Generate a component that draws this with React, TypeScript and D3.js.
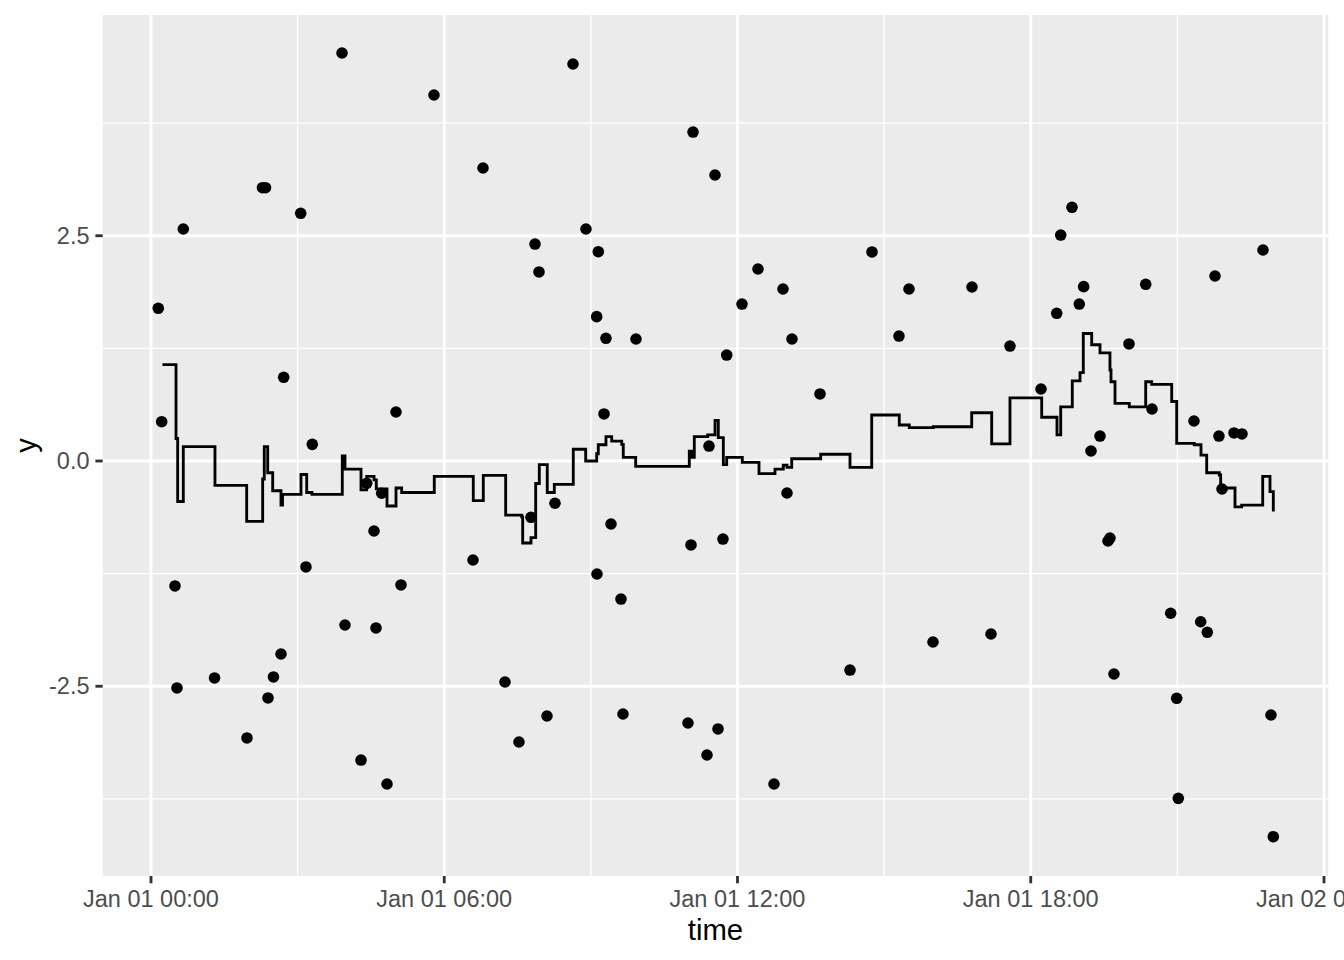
import React from "react";
import * as d3 from "d3";

// ---- data (hours after Jan 01 00:00, values) ----
const pointHours = [
  0.149, 0.219, 0.491, 0.532, 0.661, 1.3, 1.964, 2.281, 2.343, 2.394, 2.506, 2.66, 2.715, 3.063, 3.171, 3.3,
  3.908, 3.969, 4.297, 4.413, 4.563, 4.604, 4.72, 4.829, 5.013, 5.115, 5.79, 6.588, 6.793, 7.243, 7.529, 7.775,
  7.857, 7.939, 8.102, 8.266, 8.634, 8.9, 9.152, 9.119, 9.125, 9.269, 9.309, 9.412, 9.616, 9.657, 9.923, 10.987,
  11.049, 11.09, 11.376, 11.417, 11.54, 11.601, 11.703, 11.779, 12.092, 12.419, 12.747, 12.931, 13.013, 13.115,
  13.688, 14.302, 14.752, 15.304, 15.509, 16.0, 16.798, 17.187, 17.575, 18.21, 18.531, 18.613, 18.844, 18.993,
  19.083, 19.233, 19.417, 19.581, 19.621, 19.703, 20.01, 20.352, 20.481, 20.863, 20.986, 21.019, 21.34, 21.477,
  21.612, 21.77, 21.851, 21.913, 22.159, 22.322, 22.752, 22.915, 22.963,
];
const pointValues = [
  1.695, 0.436, -1.387, -2.519, 2.575, -2.408, -3.074, 3.033, 3.033, -2.63, -2.397, -2.142, 0.929, 2.749, -1.176,
  0.185, 4.528, -1.82, -3.319, -0.248, -0.777, -1.853, -0.358, -3.585, 0.544, -1.376, 4.062, -1.099, 3.252, -2.453,
  -3.119, -0.625, 2.408, 2.098, -2.83, -0.469, 4.406, 2.575, 2.323, 1.602, -1.254, 0.522, 1.362, -0.699, -1.532,
  -2.808, 1.354, -2.908, -0.932, 3.651, -3.263, 0.166, 3.174, -2.974, -0.866, 1.176, 1.742, 2.131, -3.585, 1.909,
  -0.355, 1.354, 0.744, -2.32, 2.32, 1.387, 1.909, -2.009, 1.931, -1.92, 1.276, 0.799, 1.639, 2.508, 2.816, 1.742,
  1.935, 0.111, 0.277, -0.888, -0.855, -2.364, 1.299, 1.961, 0.577, -1.69, -2.634, -3.744, 0.444, -1.784, -1.901,
  2.053, 0.277, -0.311, 0.311, 0.3, 2.342, -2.819, -4.17,
];

const stepHours = [
  0.235, 0.512, 0.546, 0.661, 1.309, 1.958, 2.285, 2.318, 2.388, 2.49, 2.66, 2.691, 3.069, 3.186, 3.294, 3.914,
  3.969, 4.297, 4.413, 4.563, 4.61, 4.829, 5.013, 5.129, 5.796, 6.594, 6.799, 7.257, 7.585, 7.605, 7.775, 7.871,
  7.945, 8.108, 8.252, 8.64, 8.894, 9.119, 9.152, 9.309, 9.426, 9.631, 9.663, 9.917, 11.014, 11.063, 11.116,
  11.39, 11.54, 11.607, 11.71, 11.779, 12.098, 12.44, 12.767, 12.937, 13.013, 13.109, 13.702, 14.302, 14.746,
  15.31, 15.515, 16.006, 16.792, 17.201, 17.575, 18.224, 18.537, 18.613, 18.85, 19.008, 19.075, 19.247, 19.417,
  19.621, 19.642, 19.724, 20.016, 20.352, 20.475, 20.884, 20.986, 21.346, 21.483, 21.6, 21.858, 21.886, 22.179,
  22.316, 22.746, 22.895, 22.963,
];
const stepValues = [
  1.07, 0.25, -0.45, 0.16, -0.27, -0.67, -0.2, 0.16, -0.13, -0.33, -0.49, -0.37, -0.15, -0.35, -0.37, 0.055,
  -0.09, -0.32, -0.17, -0.21, -0.31, -0.5, -0.3, -0.35, -0.17, -0.44, -0.16, -0.6, -0.62, -0.91, -0.85, -0.25,
  -0.04, -0.35, -0.26, 0.13, 0.0, 0.08, 0.18, 0.27, 0.22, 0.185, 0.04, -0.06, 0.11, 0.04, 0.27, 0.29, 0.45,
  0.26, -0.04, 0.04, -0.015, -0.14, -0.09, -0.045, -0.07, 0.025, 0.075, -0.07, 0.51, 0.4, 0.37, 0.38, 0.535,
  0.19, 0.7, 0.485, 0.29, 0.6, 0.89, 0.98, 1.415, 1.29, 1.2, 1.01, 0.88, 0.64, 0.6, 0.88, 0.85, 0.66, 0.195,
  0.18, 0.066, -0.13, -0.155, -0.3, -0.51, -0.49, -0.17, -0.34, -0.56,
];

const xMajorHours = [0, 6, 12, 18, 24];
const xMinorHours = [3, 9, 15, 21];
const yMajor = [-2.5, 0, 2.5];
const yMinor = [-3.75, -1.25, 1.25, 3.75];

const BASE = Date.UTC(2024, 0, 1);
const toDate = (h: number) => new Date(BASE + h * 3600000);

const W = 1344;
const H = 960;
const PL = 102.7;
const PR = 1328.3;
const PT = 15;
const PB = 876;

export default function App() {
  const x = d3.scaleUtc().domain([toDate(-0.988), toDate(24.088)]).range([PL, PR]);
  const y = d3.scaleLinear().domain([-4.606, 4.95]).range([PB, PT]);
  const fmt = d3.utcFormat("%b %d %H:%M");

  const stepData = stepHours.map((h, i) => ({ t: toDate(h), v: stepValues[i] }));
  const line = d3
    .line<{ t: Date; v: number }>()
    .x((d) => x(d.t))
    .y((d) => y(d.v))
    .curve(d3.curveStepAfter);

  const font = "'Liberation Sans', Arial, Helvetica, sans-serif";
  const major = 2.85;
  const minor = 1.42;

  return (
    <svg width={W} height={H} style={{ position: "absolute", left: 0, top: 0, background: "#fff" }} fontFamily={font}>
      <rect x={0} y={0} width={W} height={H} fill="#fff" />
      <rect x={PL} y={PT} width={PR - PL} height={PB - PT} fill="#EBEBEB" />
      {yMinor.map((v) => (
        <line key={"ym" + v} x1={PL} x2={PR} y1={y(v)} y2={y(v)} stroke="#fff" strokeWidth={minor} />
      ))}
      {xMinorHours.map((h) => (
        <line key={"xm" + h} x1={x(toDate(h))} x2={x(toDate(h))} y1={PT} y2={PB} stroke="#fff" strokeWidth={minor} />
      ))}
      {yMajor.map((v) => (
        <line key={"yM" + v} x1={PL} x2={PR} y1={y(v)} y2={y(v)} stroke="#fff" strokeWidth={major} />
      ))}
      {xMajorHours.map((h) => (
        <line key={"xM" + h} x1={x(toDate(h))} x2={x(toDate(h))} y1={PT} y2={PB} stroke="#fff" strokeWidth={major} />
      ))}
      <path d={line(stepData) || ""} fill="none" stroke="#000" strokeWidth={major} strokeLinejoin="miter" />
      {pointHours.map((h, i) => (
        <circle key={"p" + i} cx={x(toDate(h))} cy={y(pointValues[i])} r={5.8} fill="#000" />
      ))}
      {xMajorHours.map((h) => (
        <g key={"xt" + h}>
          <line x1={x(toDate(h))} x2={x(toDate(h))} y1={PB} y2={PB + 7.3} stroke="#333333" strokeWidth={major} />
          <text x={x(toDate(h))} y={906.7} textAnchor="middle" fontSize={23.5} fill="#4D4D4D">
            {fmt(toDate(h))}
          </text>
        </g>
      ))}
      {yMajor.map((v) => (
        <g key={"yt" + v}>
          <line x1={PL - 7.3} x2={PL} y1={y(v)} y2={y(v)} stroke="#333333" strokeWidth={major} />
          <text x={89.5} y={y(v)} dy="0.35em" textAnchor="end" fontSize={23.5} fill="#4D4D4D">
            {v.toFixed(1)}
          </text>
        </g>
      ))}
      <text x={(PL + PR) / 2} y={940} textAnchor="middle" fontSize={29.3} fill="#000">
        time
      </text>
      <text
        transform={`translate(36, ${(PT + PB) / 2}) rotate(-90)`}
        textAnchor="middle"
        fontSize={29.3}
        fill="#000"
      >
        y
      </text>
    </svg>
  );
}
